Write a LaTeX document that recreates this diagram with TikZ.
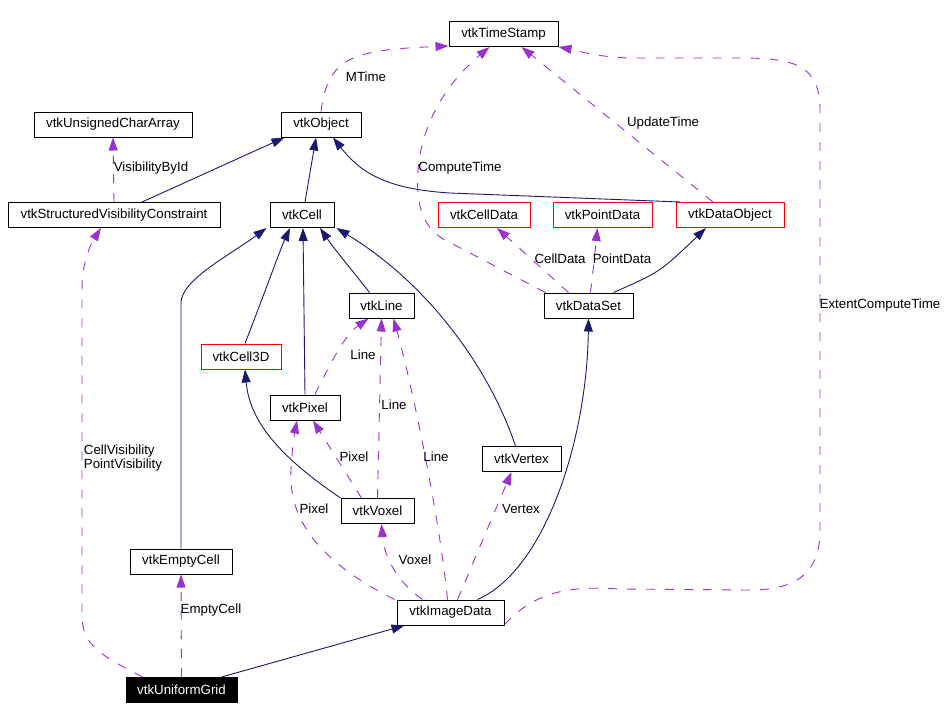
\documentclass[tikz,border=0pt]{standalone}
\usepackage{fontspec}
\setmainfont{Liberation Sans}
\usetikzlibrary{arrows.meta}
\definecolor{inheritColor}{HTML}{191970}
\definecolor{usageColor}{HTML}{9A32CD}
\tikzstyle{diagram} = [x = 1pt, y = -1pt]
\tikzstyle{classBox} = [draw=black, fill=white, line width=1pt, minimum height=25pt, inner sep=0pt, font=\fontsize{13.3}{15}\selectfont]
\tikzstyle{incompleteBox} = [classBox, draw=red]
\tikzstyle{currentBox} = [classBox, fill=black, text=white]
\tikzstyle{inheritEdge} = [color=inheritColor, line width=0.9pt, -{Triangle[length=13pt, width=9pt]}]
\tikzstyle{usageEdge} = [color=usageColor, line width=0.9pt, dash pattern=on 9pt off 10pt, -{Triangle[length=13pt, width=9pt]}]
\tikzstyle{edgeLabel} = [inner sep=0pt, align=left, font=\fontsize{13.3}{14}\selectfont]
\newcommand{\classNode}[5]{\node [#1, minimum width=#4] (#2) at (#3) {#5};}

\begin{document}
\begin{tikzpicture}[diagram]
  \useasboundingbox (0,0) rectangle (950,710);
  % classes
  \classNode{classBox}{timeStamp}{503.5,34}{109pt}{vtkTimeStamp}
  \classNode{classBox}{ucharArray}{113,124.5}{158pt}{vtkUnsignedCharArray}
  \classNode{classBox}{object}{321,124.5}{80pt}{vtkObject}
  \classNode{classBox}{visConstraint}{114,215}{212pt}{vtkStructuredVisibilityConstraint}
  \classNode{classBox}{cell}{302,215}{64pt}{vtkCell}
  \classNode{incompleteBox}{cellData}{484,215}{92pt}{vtkCellData}
  \classNode{incompleteBox}{pointData}{602.5,215}{99pt}{vtkPointData}
  \classNode{incompleteBox}{dataObject}{730,215}{108pt}{vtkDataObject}
  \classNode{classBox}{line}{381.5,305.5}{65pt}{vtkLine}
  \classNode{classBox}{dataSet}{588.5,305.5}{89pt}{vtkDataSet}
  \classNode{incompleteBox}{cellThreeD}{241,356.5}{80pt}{vtkCell3D}
  \classNode{classBox}{pixel}{305,407.5}{70pt}{vtkPixel}
  \classNode{classBox}{vertex}{521.5,459}{79pt}{vtkVertex}
  \classNode{classBox}{voxel}{377.5,511}{73pt}{vtkVoxel}
  \classNode{classBox}{emptyCell}{181,561.5}{102pt}{vtkEmptyCell}
  \classNode{classBox}{imageData}{450.5,612.5}{107pt}{vtkImageData}
  \classNode{currentBox}{uniformGrid}{181.5,690}{111pt}{vtkUniformGrid}

  % inheritance
  \draw [inheritEdge] ([xshift=28pt]visConstraint.north) -- ([xshift=4pt]object.south west);
  \draw [inheritEdge] ([xshift=3pt]cell.north) -- ([xshift=-5pt]object.south);
  \draw [inheritEdge] ([xshift=-50pt]dataObject.north) -- (450,193) .. controls (385,189) and (360,172) .. ([xshift=12pt]object.south);
  \draw [inheritEdge] (emptyCell.north) -- (181,303) .. controls (181,280) and (230,255) .. ([xshift=-3pt]cell.south west);
  \draw [inheritEdge] ([xshift=4pt]cellThreeD.north) .. controls (262,300) and (280,250) .. ([xshift=-12pt]cell.south);
  \draw [inheritEdge] (pixel.north) -- ([xshift=1pt]cell.south);
  \draw [inheritEdge] ([xshift=-12pt]line.north) .. controls (352,270) and (335,250) .. ([xshift=18pt]cell.south);
  \draw [inheritEdge] ([xshift=-6pt]vertex.north) .. controls (490,370) and (430,285) .. ([xshift=2pt]cell.south east);
  \draw [inheritEdge] (voxel.north west) .. controls (285,460) and (250,425) .. ([xshift=4pt]cellThreeD.south);
  \draw [inheritEdge] ([xshift=25pt]dataSet.north) .. controls (660,272) .. ([xshift=-24pt]dataObject.south);
  \draw [inheritEdge] ([xshift=27pt]imageData.north) .. controls (545,570) and (587,440) .. (dataSet.south);
  \draw [inheritEdge] ([xshift=40pt]uniformGrid.north) -- ([xshift=8pt]imageData.south west);

  % usage
  \draw [usageEdge] (object.north) .. controls (328,58) and (350,50) .. ([yshift=1pt]timeStamp.south west);
  \draw [usageEdge] ([xshift=-39pt]uniformGrid.north) .. controls (100,655) and (82,645) .. (82,615) -- (82,290) .. controls (82,260) and (92,242) .. ([xshift=-13pt]visConstraint.south);
  \draw [usageEdge] (visConstraint.north) -- (ucharArray.south);
  \draw [usageEdge] ([xshift=-43pt]dataSet.north) -- (445,240) .. controls (420,226) and (416,200) .. (418,170) .. controls (422,120) and (450,80) .. ([xshift=-14pt]timeStamp.south);
  \draw [usageEdge] ([xshift=-20pt]dataSet.north) -- ([xshift=13pt]cellData.south);
  \draw [usageEdge] ([xshift=2pt]dataSet.north) .. controls (594,262) .. ([xshift=-5pt]pointData.south);
  \draw [usageEdge] ([xshift=-17pt]dataObject.north) -- ([xshift=18pt]timeStamp.south);
  \draw [usageEdge] ([yshift=-12pt]imageData.east) .. controls (540,586) and (580,587) .. (620,589) -- (750,590) .. controls (800,590) and (820,570) .. (820,530) -- (820,110) .. controls (820,65) and (795,58) .. (740,58) -- (630,58) .. controls (595,57) and (575,50) .. (timeStamp.south east);
  \draw [usageEdge] ([xshift=10pt]pixel.north) .. controls (332,360) and (345,335) .. ([xshift=-13pt]line.south);
  \draw [usageEdge] (voxel.north) -- (line.south);
  \draw [usageEdge] ([xshift=-3pt]imageData.north) .. controls (440,520) and (412,385) .. ([xshift=12pt]line.south);
  \draw [usageEdge] ([xshift=-16pt]voxel.north) -- ([xshift=8pt]pixel.south);
  \draw [usageEdge] ([xshift=-56pt]imageData.north) .. controls (320,562) and (288,520) .. (291,470) .. controls (292,450) and (294,436) .. ([xshift=-8pt]pixel.south);
  \draw [usageEdge] ([xshift=-28pt]imageData.north) .. controls (397,582) and (384,556) .. ([xshift=4pt]voxel.south);
  \draw [usageEdge] ([xshift=7pt]imageData.north) -- ([xshift=-10pt]vertex.south);
  \draw [usageEdge] (uniformGrid.north) -- (emptyCell.south);

  % labels
  \node [edgeLabel] (lblMTime) at (366,77) {MTime};
  \node [edgeLabel] (lblVisById) at (151,168) {VisibilityById};
  \node [edgeLabel] (lblComputeTime) at (460,168) {ComputeTime};
  \node [edgeLabel] (lblUpdateTime) at (663,123) {UpdateTime};
  \node [edgeLabel] (lblCellData) at (560,259) {CellData};
  \node [edgeLabel] (lblPointData) at (622,259) {PointData};
  \node [edgeLabel] (lblExtent) at (880,305) {ExtentComputeTime};
  \node [edgeLabel] (lblVisibility) at (123,458) {CellVisibility\\PointVisibility};
  \node [edgeLabel] (lblLineA) at (363,355) {Line};
  \node [edgeLabel] (lblLineB) at (394,405) {Line};
  \node [edgeLabel] (lblLineC) at (436,457) {Line};
  \node [edgeLabel] (lblPixelA) at (354,457) {Pixel};
  \node [edgeLabel] (lblPixelB) at (314,509) {Pixel};
  \node [edgeLabel] (lblVoxel) at (415,560) {Voxel};
  \node [edgeLabel] (lblVertex) at (521,509) {Vertex};
  \node [edgeLabel] (lblEmptyCell) at (211,610) {EmptyCell};
\end{tikzpicture}
\end{document}
